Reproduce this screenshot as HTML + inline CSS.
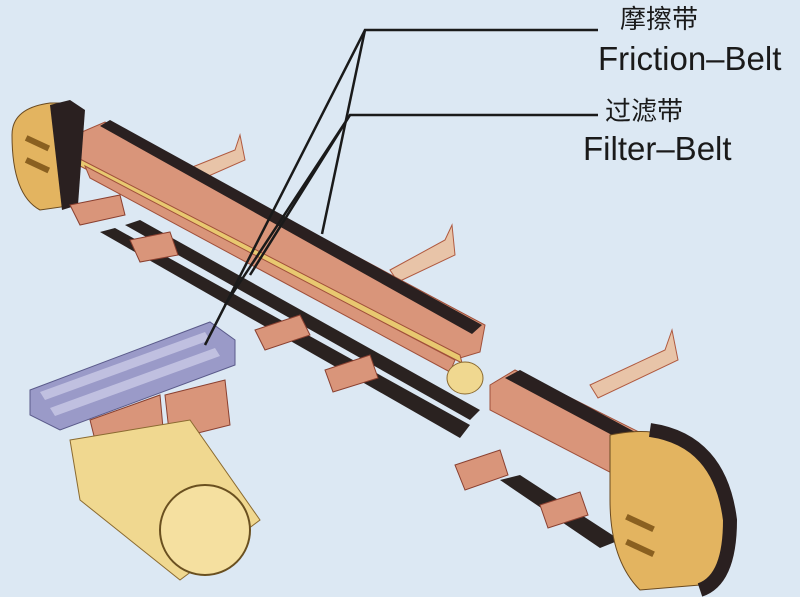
<!DOCTYPE html>
<html><head><meta charset="utf-8"><style>
html,body{margin:0;padding:0;background:#dce8f3;}
svg{display:block}
text{font-family:"Liberation Sans","Noto Sans CJK SC",sans-serif;fill:#1a1a1a}
</style></head><body>
<svg width="800" height="597" viewBox="0 0 800 597" xmlns="http://www.w3.org/2000/svg">
<rect width="800" height="597" fill="#dce8f3"/>
<!-- crossbars -->
<polygon points="185,170 235,150 240,135 245,160 195,182" fill="#e8c4a8" stroke="#b05a40"/>
<polygon points="390,270 445,240 452,225 455,255 398,282" fill="#e8c4a8" stroke="#b05a40"/>
<polygon points="590,385 665,350 672,330 678,360 598,398" fill="#e8c4a8" stroke="#b05a40"/>
<!-- lower black belts -->
<polygon points="100,232 115,228 470,425 460,438" fill="#2a2220"/>
<polygon points="125,225 140,220 480,410 470,420" fill="#2a2220"/>
<polygon points="500,480 520,475 620,540 600,548" fill="#2a2220"/>
<!-- main beam -->
<polygon points="75,135 105,122 485,325 480,352 460,358 75,158" fill="#d9957a" stroke="#a0503a"/>
<polygon points="100,126 110,120 482,325 472,334" fill="#2a2020"/>
<polygon points="78,158 460,355 462,363 80,166" fill="#e8c870" stroke="#a0503a"/>
<polygon points="85,166 455,360 450,372 90,178" fill="#d9957a" stroke="#a0503a"/>
<!-- left pulley -->
<path d="M12,135 Q12,108 50,103 L70,103 L75,205 L40,210 Q12,195 12,135Z" fill="#e3b460" stroke="#6a4a20"/>
<polygon points="50,105 70,100 85,110 78,205 62,210" fill="#2a2020"/>
<rect x="25" y="140" width="25" height="6" fill="#8a6020" transform="rotate(25 37 143)"/>
<rect x="25" y="162" width="25" height="6" fill="#8a6020" transform="rotate(25 37 165)"/>
<!-- supports -->
<g fill="#d9957a" stroke="#8a4030">
<polygon points="70,205 120,195 125,215 80,225"/>
<polygon points="130,240 170,232 178,255 140,262"/>
<polygon points="255,330 300,315 310,335 265,350"/>
<polygon points="325,370 370,355 378,378 333,392"/>
<polygon points="455,465 500,450 508,475 465,490"/>
<polygon points="540,505 580,492 588,515 548,528"/>
</g>
<!-- right beam -->
<polygon points="490,385 515,370 655,440 650,470 625,480 490,410" fill="#d9957a" stroke="#a0503a"/>
<polygon points="505,378 520,370 650,440 640,450" fill="#2a2020"/>
<ellipse cx="465" cy="378" rx="18" ry="16" fill="#f0d890" stroke="#8a6a30"/>
<!-- right pulley -->
<path d="M610,435 Q680,420 720,470 Q740,560 700,585 L640,590 Q610,560 610,500Z" fill="#e3b460" stroke="#6a4a20"/>
<path d="M650,430 Q720,440 730,520 Q730,580 700,590" fill="none" stroke="#2a2020" stroke-width="14"/>
<rect x="625" y="520" width="30" height="6" fill="#8a6020" transform="rotate(25 640 523)"/>
<rect x="625" y="545" width="30" height="6" fill="#8a6020" transform="rotate(25 640 548)"/>
<!-- purple grate -->
<polygon points="30,390 210,322 235,340 235,365 60,430 30,415" fill="#9a9ac8" stroke="#5a5a8a"/>
<polygon points="40,392 205,332 210,340 45,400" fill="#c0c0e0"/>
<polygon points="50,408 215,348 220,356 55,416" fill="#c0c0e0"/>
<!-- red frame under grate -->
<polygon points="90,420 160,395 165,450 100,460" fill="#d9957a" stroke="#8a4030"/>
<polygon points="165,395 225,380 230,425 170,440" fill="#d9957a" stroke="#8a4030"/>
<!-- yellow tube -->
<polygon points="70,440 190,420 260,520 180,580 80,500" fill="#f0d890" stroke="#8a6a30"/>
<ellipse cx="205" cy="530" rx="45" ry="45" fill="#f5e0a0" stroke="#6a5020" stroke-width="2"/>
<!-- leader lines -->
<g stroke="#1a1a1a" stroke-width="2.5" fill="none">
<polyline points="598,30 365,30 205,345"/>
<line x1="365" y1="30" x2="322" y2="234"/>
<polyline points="598,115 350,115 250,275"/>
<line x1="350" y1="115" x2="225" y2="305"/>
</g>
<text x="620" y="28" font-size="26">摩擦带</text>
<text x="598" y="70" font-size="33">Friction–Belt</text>
<text x="605" y="120" font-size="26">过滤带</text>
<text x="583" y="160" font-size="33">Filter–Belt</text>
</svg>
</body></html>
